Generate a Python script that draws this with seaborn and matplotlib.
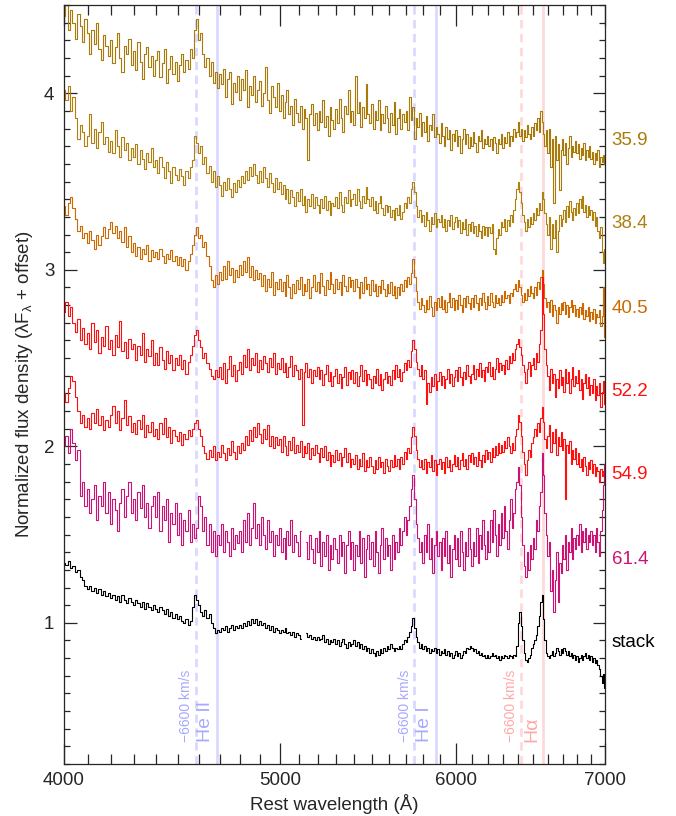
import matplotlib
matplotlib.use("Agg")
import matplotlib.pyplot as plt
import matplotlib.ticker as mticker
import matplotlib.transforms as mtransforms
import numpy as np
import pandas as pd
import seaborn as sns

# wavelength grid (Angstrom), 10 A bins, one row of values per 100 A
wave = np.arange(4000, 7001, 10)

flux_359 = [
    4.44, 4.50, 4.36, 4.47, 4.40, 4.31, 4.45, 4.38, 4.29, 4.42,
    4.34, 4.22, 4.36, 4.28, 4.40, 4.25, 4.19, 4.33, 4.27, 4.21,
    4.30, 4.17, 4.26, 4.34, 4.20, 4.12, 4.27, 4.22, 4.31, 4.16,
    4.24, 4.13, 4.29, 4.18, 4.08, 4.22, 4.26, 4.15, 4.21, 4.10,
    4.19, 4.24, 4.09, 4.17, 4.25, 4.06, 4.14, 4.21, 4.11, 4.18,
    4.07, 4.16, 4.22, 4.12, 4.19, 4.14, 4.25, 4.20, 4.36, 4.42,
    4.30, 4.34, 4.22, 4.15, 4.20, 4.10, 4.18, 4.06, 4.12, 4.03,
    4.11, 4.05, 4.14, 3.98, 4.08, 4.12, 3.94, 4.06, 4.01, 4.10,
    3.96, 4.08, 4.02, 4.13, 3.92, 4.04, 3.99, 4.10, 3.95, 4.02,
    4.07, 3.93, 4.00, 4.15, 3.96, 3.89, 4.04, 3.98, 3.92, 4.06,
    3.90, 3.99, 3.86, 3.95, 4.02, 3.88, 3.93, 3.82, 3.97, 3.89,
    3.84, 3.93, 3.80, 3.91, 3.86, 3.62, 3.88, 3.94, 3.82, 3.89,
    3.79, 3.90, 3.84, 3.96, 3.81, 3.87, 3.76, 3.92, 3.85, 3.80,
    3.91, 3.83, 3.97, 3.86, 3.78, 3.93, 3.88, 4.02, 3.84, 3.90,
    3.82, 4.10, 3.89, 3.95, 3.81, 3.92, 3.86, 4.05, 3.88, 3.83,
    3.94, 3.80, 3.90, 3.85, 3.96, 3.79, 3.88, 3.83, 3.93, 3.86,
    3.78, 3.89, 3.82, 3.95, 3.77, 3.86, 3.91, 3.80, 3.88, 3.84,
    3.90, 3.79, 3.98, 3.85, 3.92, 3.74, 3.86, 3.81, 3.89, 3.76,
    3.84, 3.78, 3.87, 3.73, 3.82, 3.79, 3.88, 3.75, 3.81, 3.77,
    3.72, 3.83, 3.76, 3.70, 3.81, 3.74, 3.79, 3.68, 3.77, 3.73,
    3.79, 3.70, 3.76, 3.66, 3.74, 3.80, 3.71, 3.77, 3.69, 3.75,
    3.70, 3.78, 3.72, 3.67, 3.76, 3.73, 3.79, 3.69, 3.74, 3.71,
    3.76, 3.70, 3.74, 3.68, 3.75, 3.72, 3.66, 3.74, 3.71, 3.77,
    3.69, 3.75, 3.72, 3.78, 3.70, 3.76, 3.73, 3.80, 3.75, 3.78,
    3.84, 3.76, 3.80, 3.73, 3.79, 3.75, 3.82, 3.77, 3.74, 3.81,
    3.76, 3.83, 3.79, 3.86, 3.78, 3.90, 3.84, 3.77, 3.70, 3.79,
    3.66, 3.80, 3.58, 3.74, 3.38, 3.76, 3.62, 3.71, 3.45, 3.68,
    3.74, 3.65, 3.72, 3.60, 3.69, 3.76, 3.64, 3.70, 3.67, 3.73,
    3.66, 3.71, 3.63, 3.69, 3.65, 3.72, 3.62, 3.68, 3.64, 3.70,
    3.63, 3.67, 3.60, 3.66, 3.62, 3.68, 3.58, 3.64, 3.61, 3.65,
    3.60,
]
flux_384 = [
    4.02, 3.96, 4.04, 3.90, 3.98, 3.86, 3.74, 3.82, 3.78, 3.70,
    3.76, 3.88, 3.72, 3.80, 3.69, 3.78, 3.84, 3.71, 3.75, 3.67,
    3.73, 3.66, 3.79, 3.70, 3.64, 3.75, 3.68, 3.72, 3.62, 3.69,
    3.64, 3.71, 3.60, 3.68, 3.63, 3.57, 3.66, 3.61, 3.69, 3.58,
    3.62, 3.55, 3.64, 3.58, 3.52, 3.61, 3.56, 3.49, 3.58, 3.54,
    3.51, 3.57, 3.53, 3.48, 3.56, 3.52, 3.58, 3.62, 3.76, 3.72,
    3.66, 3.70, 3.60, 3.64, 3.55, 3.59, 3.50, 3.56, 3.47, 3.53,
    3.48, 3.42, 3.50, 3.45, 3.52, 3.46, 3.41, 3.49, 3.44, 3.51,
    3.47, 3.53, 3.49, 3.56, 3.51, 3.58, 3.53, 3.60, 3.54, 3.49,
    3.56, 3.50, 3.58, 3.52, 3.47, 3.55, 3.49, 3.44, 3.52, 3.46,
    3.50, 3.43, 3.48, 3.40, 3.46, 3.38, 3.45, 3.41, 3.36, 3.44,
    3.39, 3.46, 3.37, 3.42, 3.33, 3.40, 3.36, 3.43, 3.35, 3.41,
    3.37, 3.32, 3.40, 3.35, 3.42, 3.34, 3.39, 3.31, 3.38, 3.36,
    3.41, 3.35, 3.44, 3.37, 3.33, 3.41, 3.38, 3.45, 3.36, 3.40,
    3.43, 3.37, 3.46, 3.39, 3.35, 3.42, 3.38, 3.47, 3.40, 3.36,
    3.41, 3.34, 3.39, 3.32, 3.38, 3.42, 3.35, 3.31, 3.37, 3.33,
    3.36, 3.30, 3.34, 3.28, 3.35, 3.31, 3.37, 3.29, 3.33, 3.38,
    3.35, 3.41, 3.38, 3.46, 3.50, 3.44, 3.36, 3.30, 3.34, 3.27,
    3.31, 3.25, 3.33, 3.28, 3.22, 3.30, 3.26, 3.32, 3.24, 3.29,
    3.27, 3.31, 3.24, 3.29, 3.22, 3.28, 3.25, 3.31, 3.23, 3.27,
    3.30, 3.24, 3.28, 3.21, 3.27, 3.23, 3.29, 3.20, 3.26, 3.22,
    3.27, 3.21, 3.25, 3.19, 3.26, 3.22, 3.18, 3.25, 3.20, 3.24,
    3.19, 3.24, 3.21, 3.26, 3.12, 3.09, 3.18, 3.23, 3.20, 3.27,
    3.24, 3.29, 3.22, 3.28, 3.25, 3.31, 3.27, 3.34, 3.40, 3.46,
    3.50, 3.44, 3.38, 3.31, 3.27, 3.22, 3.29, 3.24, 3.30, 3.26,
    3.32, 3.28, 3.35, 3.31, 3.38, 3.34, 3.44, 3.40, 3.32, 3.26,
    3.20, 3.30, 3.12, 3.26, 3.18, 3.28, 3.10, 3.22, 3.31, 3.25,
    3.29, 3.34, 3.27, 3.36, 3.30, 3.39, 3.33, 3.28, 3.35, 3.31,
    3.38, 3.32, 3.40, 3.35, 3.42, 3.33, 3.37, 3.30, 3.36, 3.31,
    3.34, 3.28, 3.33, 3.25, 3.30, 3.22, 3.18, 3.24, 3.10, 3.04,
    3.12,
]
flux_405 = [
    3.36, 3.31, 3.38, 3.41, 3.35, 3.29, 3.22, 3.25, 3.18, 3.21,
    3.15, 3.22, 3.17, 3.12, 3.20, 3.14, 3.19, 3.24, 3.18, 3.23,
    3.27, 3.21, 3.25, 3.18, 3.22, 3.16, 3.24, 3.13, 3.19, 3.10,
    3.15, 3.08, 3.13, 3.06, 3.12, 3.09, 3.14, 3.05, 3.11, 3.07,
    3.10, 3.06, 3.12, 3.08, 3.04, 3.09, 3.06, 3.11, 3.05, 3.08,
    3.03, 3.07, 3.02, 3.06, 3.00, 3.05, 3.09, 3.14, 3.20, 3.24,
    3.18, 3.20, 3.13, 3.16, 3.08, 3.02, 2.94, 2.90, 2.97, 2.92,
    2.99, 2.94, 3.02, 2.95, 3.05, 2.97, 3.01, 2.93, 3.00, 2.96,
    3.03, 2.97, 3.05, 2.99, 3.07, 2.96, 3.02, 2.94, 3.00, 2.95,
    2.98, 2.91, 2.97, 2.88, 2.95, 2.90, 2.99, 2.86, 2.93, 2.89,
    2.95, 2.88, 2.93, 2.85, 2.97, 2.90, 2.84, 2.92, 2.87, 2.94,
    2.89, 2.96, 2.86, 2.92, 2.88, 2.95, 2.84, 2.90, 2.97, 2.88,
    2.93, 2.87, 2.98, 2.91, 2.86, 2.94, 2.89, 2.99, 2.92, 2.87,
    2.95, 2.89, 2.93, 2.86, 2.97, 2.91, 2.88, 2.96, 2.90, 2.94,
    2.88, 2.95, 2.90, 2.84, 2.93, 2.87, 2.96, 2.89, 2.92, 2.86,
    2.94, 2.88, 2.92, 2.85, 2.91, 2.87, 2.94, 2.89, 2.85, 2.92,
    2.87, 2.93, 2.86, 2.91, 2.84, 2.90, 2.86, 2.92, 2.88, 2.94,
    2.90, 2.96, 2.92, 2.98, 3.06, 2.96, 2.88, 2.82, 2.78, 2.84,
    2.80, 2.76, 2.83, 2.78, 2.85, 2.79, 2.74, 2.82, 2.77, 2.84,
    2.79, 2.85, 2.78, 2.83, 2.76, 2.82, 2.87, 2.79, 2.84, 2.77,
    2.83, 2.78, 2.86, 2.80, 2.76, 2.84, 2.79, 2.85, 2.81, 2.78,
    2.84, 2.79, 2.86, 2.81, 2.77, 2.84, 2.80, 2.87, 2.82, 2.78,
    2.85, 2.80, 2.87, 2.82, 2.79, 2.86, 2.81, 2.84, 2.80, 2.86,
    2.82, 2.88, 2.84, 2.86, 2.81, 2.87, 2.85, 2.89, 2.92, 2.88,
    2.94, 2.90, 2.86, 2.82, 2.87, 2.83, 2.89, 2.85, 2.91, 2.87,
    2.84, 2.90, 2.86, 2.93, 2.89, 2.96, 3.00, 2.92, 2.84, 2.79,
    2.82, 2.76, 2.83, 2.74, 2.80, 2.77, 2.70, 2.79, 2.75, 2.81,
    2.77, 2.82, 2.75, 2.80, 2.73, 2.79, 2.83, 2.76, 2.80, 2.74,
    2.78, 2.73, 2.79, 2.75, 2.81, 2.72, 2.77, 2.74, 2.79, 2.71,
    2.76, 2.72, 2.78, 2.70, 2.75, 2.73, 2.77, 2.68, 2.74, 2.90,
    2.62,
]
flux_522 = [
    2.76, 2.82, 2.74, 2.79, 2.70, 2.65, 2.72, 2.60, 2.67, 2.58,
    2.64, 2.55, 2.70, 2.59, 2.66, 2.53, 2.62, 2.57, 2.68, 2.55,
    2.60, 2.52, 2.63, 2.56, 2.71, 2.54, 2.59, 2.50, 2.61, 2.55,
    2.58, 2.49, 2.57, 2.52, 2.64, 2.48, 2.55, 2.51, 2.60, 2.46,
    2.53, 2.46, 2.56, 2.49, 2.44, 2.54, 2.47, 2.52, 2.43, 2.50,
    2.46, 2.52, 2.44, 2.49, 2.41, 2.48, 2.52, 2.57, 2.63, 2.66,
    2.60, 2.56, 2.50, 2.53, 2.47, 2.44, 2.40, 2.38, 2.43, 2.39,
    2.45, 2.38, 2.47, 2.36, 2.44, 2.51, 2.40, 2.46, 2.37, 2.43,
    2.48, 2.41, 2.52, 2.45, 2.55, 2.43, 2.50, 2.46, 2.53, 2.42,
    2.49, 2.44, 2.51, 2.47, 2.42, 2.50, 2.45, 2.53, 2.41, 2.47,
    2.44, 2.50, 2.42, 2.47, 2.39, 2.45, 2.51, 2.40, 2.46, 2.43,
    2.38, 2.44, 2.12, 2.42, 2.47, 2.39, 2.44, 2.36, 2.43, 2.40,
    2.45, 2.38, 2.43, 2.35, 2.41, 2.46, 2.37, 2.42, 2.34, 2.40,
    2.44, 2.36, 2.41, 2.33, 2.39, 2.45, 2.35, 2.42, 2.38, 2.43,
    2.36, 2.42, 2.34, 2.40, 2.46, 2.37, 2.43, 2.35, 2.41, 2.38,
    2.33, 2.40, 2.36, 2.44, 2.35, 2.41, 2.32, 2.38, 2.42, 2.36,
    2.40, 2.35, 2.43, 2.38, 2.46, 2.39, 2.44, 2.37, 2.42, 2.47,
    2.43, 2.49, 2.45, 2.54, 2.60, 2.55, 2.48, 2.44, 2.40, 2.46,
    2.38, 2.43, 2.24, 2.36, 2.31, 2.39, 2.34, 2.41, 2.32, 2.37,
    2.42, 2.35, 2.40, 2.33, 2.38, 2.44, 2.36, 2.41, 2.34, 2.39,
    2.43, 2.37, 2.45, 2.39, 2.35, 2.42, 2.38, 2.46, 2.40, 2.36,
    2.41, 2.46, 2.38, 2.44, 2.40, 2.47, 2.39, 2.43, 2.37, 2.45,
    2.42, 2.48, 2.40, 2.45, 2.38, 2.44, 2.50, 2.42, 2.47, 2.43,
    2.46, 2.41, 2.49, 2.44, 2.51, 2.47, 2.53, 2.49, 2.55, 2.58,
    2.61, 2.56, 2.52, 2.46, 2.42, 2.36, 2.44, 2.48, 2.40, 2.46,
    2.50, 2.44, 2.53, 2.48, 2.58, 2.66, 2.96, 2.75, 2.55, 2.46,
    2.40, 2.32, 2.44, 2.36, 2.41, 2.28, 2.38, 2.33, 2.43, 2.35,
    2.39, 2.31, 2.44, 2.36, 2.42, 2.30, 2.38, 2.45, 2.34, 2.40,
    2.36, 2.43, 2.32, 2.38, 2.27, 2.36, 2.41, 2.33, 2.39, 2.29,
    2.35, 2.30, 2.38, 2.26, 2.34, 2.29, 2.36, 2.22, 2.31, 2.37,
    2.24,
]
flux_549 = [
    2.30, 2.25, 2.33, 2.40, 2.37, 2.28, 2.20, 2.13, 2.18, 2.11,
    2.16, 2.10, 2.19, 2.13, 2.21, 2.12, 2.17, 2.09, 2.15, 2.11,
    2.18, 2.23, 2.13, 2.20, 2.09, 2.16, 2.26, 2.12, 2.17, 2.08,
    2.13, 2.07, 2.15, 2.10, 2.18, 2.05, 2.12, 2.08, 2.14, 2.06,
    2.10, 2.04, 2.13, 2.07, 2.16, 2.05, 2.11, 2.02, 2.09, 2.06,
    2.03, 2.08, 2.01, 2.07, 2.04, 2.09, 2.06, 2.10, 2.13, 2.15,
    2.10, 2.06, 2.00, 1.96, 1.93, 1.98, 1.94, 2.00, 1.92, 1.97,
    1.94, 2.01, 1.96, 1.92, 1.99, 1.95, 2.03, 1.97, 1.93, 2.00,
    1.96, 2.02, 1.98, 2.06, 2.01, 2.09, 2.03, 2.11, 2.05, 2.13,
    2.07, 2.02, 2.10, 2.04, 2.12, 2.00, 2.06, 1.99, 2.05, 2.01,
    2.04, 1.97, 2.06, 2.00, 1.95, 2.03, 1.98, 2.05, 1.96, 2.01,
    1.97, 2.03, 1.94, 2.00, 1.96, 2.02, 1.93, 1.99, 1.95, 2.01,
    1.96, 1.91, 1.99, 1.94, 2.00, 1.92, 1.97, 1.89, 1.95, 1.91,
    1.98, 1.92, 1.96, 1.89, 1.94, 1.99, 1.91, 1.96, 1.88, 1.93,
    1.90, 1.95, 1.87, 1.93, 1.89, 1.96, 1.86, 1.92, 1.88, 1.94,
    1.89, 1.85, 1.92, 1.87, 1.94, 1.88, 1.91, 1.85, 1.93, 1.89,
    1.86, 1.92, 1.88, 1.95, 1.89, 1.93, 1.87, 1.94, 1.90, 1.97,
    1.93, 1.99, 1.96, 2.05, 2.11, 2.06, 1.98, 1.93, 1.88, 1.92,
    1.87, 1.93, 1.85, 1.91, 1.88, 1.95, 1.86, 1.92, 1.84, 1.90,
    1.93, 1.87, 1.91, 1.85, 1.94, 1.88, 1.92, 1.86, 1.90, 1.95,
    1.89, 1.94, 1.87, 1.92, 1.96, 1.89, 1.93, 1.87, 1.95, 1.91,
    1.96, 1.90, 1.94, 1.89, 1.97, 1.92, 1.88, 1.95, 1.91, 1.98,
    1.93, 1.97, 1.91, 1.99, 1.94, 2.00, 1.95, 2.02, 1.96, 2.01,
    1.97, 2.03, 1.99, 2.05, 2.00, 1.96, 2.02, 1.98, 2.06, 2.10,
    2.18, 2.14, 2.06, 1.97, 1.90, 1.84, 1.92, 1.98, 1.94, 2.02,
    2.05, 2.10, 2.06, 2.13, 2.08, 2.16, 2.22, 2.14, 2.04, 1.99,
    2.06, 2.12, 1.97, 2.08, 2.02, 2.10, 1.95, 2.05, 2.00, 2.08,
    1.98, 2.04, 1.70, 2.01, 1.96, 2.03, 1.90, 1.98, 1.93, 1.99,
    1.90, 1.96, 1.88, 1.93, 1.86, 1.94, 1.89, 1.84, 1.91, 1.87,
    1.92, 1.85, 1.90, 1.83, 1.88, 1.86, 1.80, 1.87, 1.83, 1.86,
    1.80,
]
flux_614 = [
    2.00, 2.06, 1.96, 2.10, 2.02, 1.92, 1.98, 1.72, 1.80, 1.66,
    1.76, 1.62, 1.70, 1.78, 1.58, 1.72, 1.66, 1.80, 1.62, 1.74,
    1.56, 1.70, 1.64, 1.52, 1.68, 1.76, 1.60, 1.72, 1.80, 1.62,
    1.70, 1.58, 1.74, 1.65, 1.78, 1.60, 1.68, 1.54, 1.66, 1.72,
    1.60, 1.74, 1.52, 1.66, 1.58, 1.70, 1.46, 1.62, 1.56, 1.68,
    1.50, 1.62, 1.44, 1.58, 1.52, 1.64, 1.46, 1.56, 1.48, 1.54,
    1.72, 1.66, 1.52, 1.60, 1.44, 1.56, 1.40, 1.52, 1.38, 1.50,
    1.44, 1.56, 1.40, 1.52, 1.46, 1.38, 1.54, 1.42, 1.50, 1.45,
    1.52, 1.40, 1.58, 1.46, 1.62, 1.44, 1.54, 1.68, 1.48, 1.56,
    1.44, 1.60, 1.50, 1.42, 1.58, 1.46, 1.52, 1.38, 1.50, 1.44,
    1.54, 1.40, 1.48, 1.36, 1.52, 1.44, 1.58, 1.40, 1.50, 1.46,
    1.38, 1.52, np.nan, np.nan, 1.46, 1.36, 1.50, 1.42, 1.34, 1.48,
    1.40, 1.52, 1.32, 1.46, 1.38, 1.50, 1.30, 1.44, 1.36, 1.48,
    1.42, 1.34, 1.50, 1.38, 1.46, 1.28, 1.44, 1.52, 1.36, 1.46,
    1.30, 1.44, 1.38, 1.52, 1.34, 1.48, 1.26, 1.42, 1.50, 1.36,
    1.46, 1.32, 1.52, 1.40, 1.28, 1.44, 1.54, 1.36, 1.48, 1.38,
    1.44, 1.30, 1.50, 1.36, 1.46, 1.40, 1.54, 1.44, 1.52, 1.60,
    1.50, 1.58, 1.66, 1.76, 1.84, 1.70, 1.56, 1.48, 1.40, 1.46,
    1.34, 1.50, 1.40, 1.56, 1.36, 1.48, 1.28, 1.44, 1.52, 1.38,
    1.46, 1.30, 1.48, 1.38, 1.52, 1.34, 1.44, 1.26, 1.42, 1.50,
    1.36, 1.48, 1.32, 1.52, 1.40, 1.30, 1.46, 1.38, 1.54, 1.42,
    1.32, 1.46, 1.38, 1.54, 1.34, 1.50, 1.42, 1.58, 1.44, 1.36,
    1.52, 1.40, 1.58, 1.46, 1.64, 1.50, 1.38, 1.56, 1.44, 1.62,
    1.48, 1.66, 1.52, 1.42, 1.58, 1.70, 1.54, 1.62, 1.76, 1.80,
    1.88, 1.78, 1.60, 1.44, 1.32, 1.26, 1.40, 1.30, 1.44, 1.36,
    1.48, 1.42, 1.58, 1.52, 1.66, 1.74, 1.96, 1.84, 1.62, 1.50,
    1.38, 1.46, 1.18, 1.30, 1.06, 1.24, 1.40, 1.12, 1.34, 1.28,
    1.44, 1.36, 1.50, 1.30, 1.46, 1.40, 1.54, 1.36, 1.48, 1.42,
    1.50, 1.44, 1.56, 1.40, 1.52, 1.46, 1.54, 1.42, 1.50, 1.46,
    1.52, 1.44, 1.50, 1.40, 1.54, 1.46, 1.38, 1.52, 1.64, 1.78,
    1.90,
]
flux_stack = [
    1.34, 1.33, 1.35, 1.31, 1.32, 1.29, 1.30, 1.26, 1.24, 1.21,
    1.19, 1.21, 1.18, 1.20, 1.17, 1.19, 1.16, 1.18, 1.15, 1.17,
    1.14, 1.16, 1.13, 1.15, 1.12, 1.16, 1.13, 1.11, 1.14, 1.12,
    1.10, 1.13, 1.11, 1.09, 1.12, 1.08, 1.11, 1.09, 1.07, 1.10,
    1.08, 1.06, 1.09, 1.07, 1.05, 1.08, 1.04, 1.06, 1.03, 1.05,
    1.02, 1.04, 1.01, 1.00, 1.02, 0.99, 1.01, 1.09, 1.16, 1.13,
    1.10, 1.06, 1.04, 1.07, 1.03, 1.05, 1.00, 0.97, 0.94, 0.96,
    0.95, 0.97, 0.96, 0.98, 0.95, 0.97, 0.99, 0.96, 0.98, 0.97,
    0.99, 0.97, 1.00, 0.98, 1.01, 0.99, 1.02, 1.00, 1.02, 0.99,
    1.01, 0.99, 1.00, 0.97, 0.99, 0.96, 0.98, 0.95, 0.97, 0.96,
    0.94, 0.96, 0.95, 0.97, 0.94, 0.95, 0.93, 0.95, 0.92, 0.94,
    0.93, 0.91, np.nan, np.nan, 0.94, 0.92, 0.93, 0.91, 0.92, 0.90,
    0.92, 0.90, 0.91, 0.93, 0.89, 0.91, 0.88, 0.90, 0.89, 0.91,
    0.88, 0.90, 0.87, 0.89, 0.91, 0.88, 0.86, 0.89, 0.87, 0.88,
    0.90, 0.87, 0.89, 0.86, 0.88, 0.85, 0.87, 0.84, 0.86, 0.83,
    0.85, 0.83, 0.81, 0.84, 0.82, 0.85, 0.83, 0.86, 0.84, 0.87,
    0.85, 0.88, 0.86, 0.84, 0.86, 0.85, 0.87, 0.85, 0.88, 0.90,
    0.89, 0.92, 0.95, 0.98, 1.03, 0.97, 0.92, 0.89, 0.86, 0.88,
    0.85, 0.87, 0.84, 0.86, 0.83, 0.85, 0.84, 0.86, 0.83, 0.85,
    0.82, 0.84, 0.83, 0.85, 0.82, 0.84, 0.81, 0.83, 0.80, 0.82,
    0.84, 0.81, 0.83, 0.80, 0.82, 0.84, 0.83, 0.86, 0.85, 0.87,
    0.86, 0.84, 0.85, 0.83, 0.84, 0.82, 0.83, 0.81, 0.82, 0.80,
    0.82, 0.80, 0.81, 0.83, 0.81, 0.82, 0.80, 0.81, 0.79, 0.81,
    0.80, 0.82, 0.81, 0.80, 0.82, 0.81, 0.80, 0.82, 0.81, 0.87,
    1.00, 1.06, 0.98, 0.90, 0.83, 0.79, 0.78, 0.80, 0.82, 0.86,
    0.88, 0.90, 0.93, 0.98, 1.04, 1.12, 1.16, 1.02, 0.90, 0.83,
    0.81, 0.80, 0.82, 0.84, 0.81, 0.83, 0.86, 0.84, 0.82, 0.85,
    0.83, 0.86, 0.84, 0.82, 0.84, 0.81, 0.83, 0.80, 0.82, 0.79,
    0.81, 0.78, 0.80, 0.82, 0.79, 0.81, 0.83, 0.80, 0.82, 0.79,
    0.81, 0.78, 0.80, 0.77, 0.79, 0.76, 0.74, 0.70, 0.66, 0.71,
    0.63,
]

epochs = ["35.9", "38.4", "40.5", "52.2", "54.9", "61.4", "stack"]
fluxes = [flux_359, flux_384, flux_405, flux_522, flux_549, flux_614, flux_stack]
colors = ["#A97A0A", "#AF800E", "#CC6A00", "#FF1010", "#FF1010", "#CC1272", "#000000"]
label_y = [3.73, 3.26, 2.78, 2.31, 1.84, 1.36, 0.89]

line_names = ["He II", "He I", "H\u03b1"]
line_waves = [4686, 5876, 6563]
line_colors = ["#D9D9FF", "#D9D9FF", "#FFD9D9"]
text_colors = ["#A8A8FF", "#A8A8FF", "#FFA8A8"]
shift_kms = -6600

# long table, split spectra at gaps so they are not joined
frames = []
for ep, fl in zip(epochs, fluxes):
    f = np.array(fl, dtype=float)
    seg = np.cumsum(np.isnan(f))
    frames.append(pd.DataFrame({"wave": wave, "flux": f, "epoch": ep, "seg": seg}))
df = pd.concat(frames).dropna()
df["unit"] = df["epoch"] + "_" + df["seg"].astype(str)

sns.set_style("ticks")
plt.rcParams["font.family"] = ["Liberation Sans", "DejaVu Sans"]
plt.rcParams["mathtext.fontset"] = "custom"
plt.rcParams["mathtext.rm"] = "Liberation Sans"
plt.rcParams["mathtext.it"] = "Liberation Sans:italic"

fig = plt.figure(figsize=(6.76, 8.16), dpi=100)
ax = fig.add_axes([0.0947, 0.0637, 0.8003, 0.9301])

# emission line markers
c_kms = 299792.458
for name, w0, lc, tc in zip(line_names, line_waves, line_colors, text_colors):
    ws = w0 * (1 + shift_kms / c_kms)
    ax.axvline(w0, color=lc, lw=2.0, zorder=0)
    ax.axvline(ws, color=lc, lw=2.0, dashes=(3, 2), zorder=0)
    ax.annotate("\u22126600 km/s", xy=(ws, 0.324), xytext=(-2, 0), textcoords="offset points",
                rotation=90, ha="right", va="bottom", fontsize=10, color=tc)
    ax.annotate(name, xy=(w0, 0.324), xytext=(-2, 0), textcoords="offset points",
                rotation=90, ha="right", va="bottom", fontsize=14, color=tc)

sns.lineplot(data=df, x="wave", y="flux", hue="epoch", units="unit", estimator=None,
             hue_order=epochs, palette=dict(zip(epochs, colors)), drawstyle="steps-mid",
             linewidth=0.8, legend=False, sort=True, ax=ax)

ax.set_xscale("log")
ax.set_xlim(4000, 7000)
ax.set_ylim(0.2, 4.5)
ax.xaxis.set_major_locator(mticker.FixedLocator([4000, 5000, 6000, 7000]))
ax.xaxis.set_major_formatter(mticker.FixedFormatter(["4000", "5000", "6000", "7000"]))
ax.xaxis.set_minor_locator(mticker.FixedLocator(list(range(4000, 7001, 100))))
ax.xaxis.set_minor_formatter(mticker.NullFormatter())
ax.yaxis.set_major_locator(mticker.MultipleLocator(1))
ax.yaxis.set_minor_locator(mticker.MultipleLocator(0.1))

ax.tick_params(which="both", direction="in", top=True, right=True, width=0.9, labelsize=13.5)
ax.tick_params(axis="x", which="major", length=15, pad=6)
ax.tick_params(axis="x", which="minor", length=7.5)
ax.tick_params(axis="y", which="major", length=9, pad=7)
ax.tick_params(axis="y", which="minor", length=4.5)
for sp in ax.spines.values():
    sp.set_linewidth(0.9)

ax.set_xlabel("Rest wavelength (\u00c5)", fontsize=13.5, labelpad=3)
ax.set_ylabel("Normalized flux density (\u03bbF$_{\\mathregular{\u03bb}}$ + offset)", fontsize=13.5, labelpad=6)

trans = mtransforms.blended_transform_factory(ax.transAxes, ax.transData)
for ep, col, yy in zip(epochs, colors, label_y):
    ax.text(1.012, yy, ep, transform=trans, ha="left", va="center", fontsize=13.5, color=col)

fig.savefig("out.png", dpi=100)
